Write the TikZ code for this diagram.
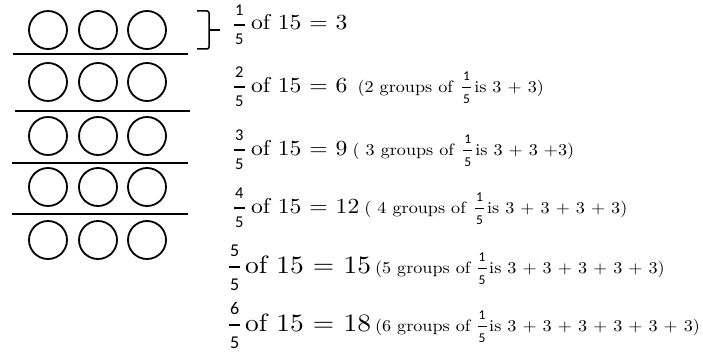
\documentclass[tikz,border=0pt]{standalone}
\usepackage{fontspec}
\usepackage{amsmath}
\usetikzlibrary{calc}
\newfontfamily\carl{Carlito}
\newfontfamily\lmw{lmroman10-regular.otf}[FakeStretch=1.1]
\newcommand\txtA{\fontsize{21.5}{24}\lmw}
\newcommand\txtC{\fontsize{25}{28}\lmw}
\newcommand\txtB{\fontsize{16.5}{19}\lmw}
% #1 outer size, #2 digit size, #3 numerator, #4 bar thickness
\newcommand\myfr[4]{{\fontsize{#1}{#1}\selectfont$\genfrac{}{}{#4}{0}{\hbox{\fontsize{#2}{#2}\selectfont\carl\kern1pt#3\kern1pt}}{\hbox{\fontsize{#2}{#2}\selectfont\carl\kern1pt 5\kern1pt}}$}}
\tikzset{
  ball/.style={circle,draw,line width=1.8pt,minimum size=38pt,inner sep=0pt},
  sepline/.style={line width=1.8pt},
  txt/.style={anchor=base west,inner sep=0pt,outer sep=0pt},
  brace/.style={line width=1.5pt,rounded corners=2pt}
}
\begin{document}
\begin{tikzpicture}[x=1pt,y=-1pt]
\useasboundingbox (0,0) rectangle (703,353);
% circles
\foreach \r/\yy in {1/30,2/82,3/136,4/187,5/240}{
  \node[ball] (c\r a) at (48,\yy) {};
  \node[ball] (c\r b) at (98,\yy) {};
  \node[ball] (c\r c) at (147,\yy) {};
}
% separators
\draw[sepline] (13,54) -- (188,54);
\draw[sepline] (15,111) -- (190,111);
\draw[sepline] (12,163) -- (188,163);
\draw[sepline] (12,214) -- (188,214);
% bracket
\draw[brace] (197,11) -- (209,11) -- (209,49) -- (197,49);
\draw[brace] (209,30) -- (220,30);
% line 1
\node[txt] (f1) at (233,30) {\myfr{21.5}{16.5}{1}{1.5pt}};
\node[txt,font=\txtA] (m1) at (251,30) {of 15 = 3};
% line 2
\node[txt] (f2) at (233,92) {\myfr{21.5}{16.5}{2}{1.5pt}};
\node[txt,font=\txtA] (m2) at (251,92) {of 15 = 6};
\node[txt,font=\txtB] (g2) at ($(m2.base east)+(10,0)$) {(2 groups of};
\node[txt] (s2) at ($(g2.base east)+(8,0)$) {\myfr{16.5}{13.5}{1}{1.2pt}};
\node[txt,font=\txtB] (r2) at ($(s2.base east)+(2,0)$) {is 3 + 3)};
% line 3
\node[txt] (f3) at (233,155) {\myfr{21.5}{16.5}{3}{1.5pt}};
\node[txt,font=\txtA] (m3) at (251,155) {of 15 = 9};
\node[txt,font=\txtB] (g3) at ($(m3.base east)+(5,0)$) {( 3 groups of};
\node[txt] (s3) at ($(g3.base east)+(8,0)$) {\myfr{16.5}{13.5}{1}{1.2pt}};
\node[txt,font=\txtB] (r3) at ($(s3.base east)+(2,0)$) {is 3 + 3 +3)};
% line 4
\node[txt] (f4) at (233,213) {\myfr{21.5}{16.5}{4}{1.5pt}};
\node[txt,font=\txtA] (m4) at (251,213) {of 15 = 12};
\node[txt,font=\txtB] (g4) at ($(m4.base east)+(5,0)$) {( 4 groups of};
\node[txt] (s4) at ($(g4.base east)+(8,0)$) {\myfr{16.5}{13.5}{1}{1.2pt}};
\node[txt,font=\txtB] (r4) at ($(s4.base east)+(2,0)$) {is 3 + 3 + 3 + 3)};
% line 5
\node[txt] (f5) at (228,273) {\myfr{24}{18}{5}{1.6pt}};
\node[txt,font=\txtC] (m5) at (245,273) {of 15 = 15};
\node[txt,font=\txtB] (g5) at ($(m5.base east)+(4,0)$) {(5 groups of};
\node[txt] (s5) at ($(g5.base east)+(6,0)$) {\myfr{16.5}{13.5}{1}{1.2pt}};
\node[txt,font=\txtB] (r5) at ($(s5.base east)+(1.5,0)$) {is 3 + 3 + 3 + 3 + 3)};
% line 6
\node[txt] (f6) at (228,331) {\myfr{24}{18}{6}{1.6pt}};
\node[txt,font=\txtC] (m6) at (245,331) {of 15 = 18};
\node[txt,font=\txtB] (g6) at ($(m6.base east)+(4,0)$) {(6 groups of};
\node[txt] (s6) at ($(g6.base east)+(6,0)$) {\myfr{16.5}{13.5}{1}{1.2pt}};
\node[txt,font=\txtB] (r6) at ($(s6.base east)+(1.5,0)$) {is 3 + 3 + 3 + 3 + 3 + 3)};
\end{tikzpicture}
\end{document}
